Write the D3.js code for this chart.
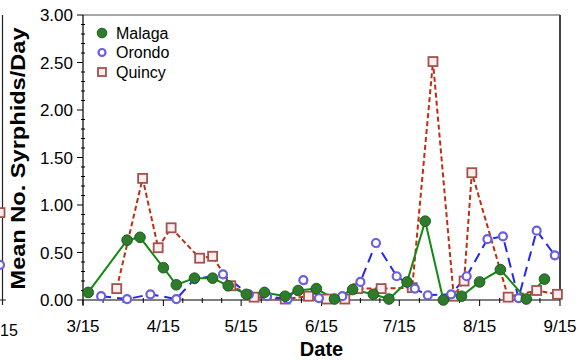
<!DOCTYPE html>
<html>
<head>
  <meta charset="utf-8">
  <script src="https://cdn.jsdelivr.net/npm/d3@7/dist/d3.min.js"></script>
  <style>
    body { margin: 0; background: #fff; }
    svg { display: block; font-family: "Liberation Sans", Arial, sans-serif; }
  </style>
</head>
<body>
  <svg width="580" height="360"></svg>
  <script>
    // chart data
    const malagaDates = ['3/17', '4/1', '4/6', '4/15', '4/20', '4/27', '5/4', '5/10', '5/17', '5/24', '6/1', '6/6', '6/13', '6/20', '6/27', '7/5', '7/11', '7/18', '7/25', '8/1', '8/8', '8/15', '8/23', '9/2', '9/9'];
    const malagaValues = [0.08, 0.63, 0.66, 0.34, 0.16, 0.23, 0.23, 0.15, 0.06, 0.08, 0.04, 0.10, 0.12, 0.01, 0.11, 0.06, 0.01, 0.19, 0.83, 0.00, 0.04, 0.19, 0.32, 0.01, 0.22];

    const orondoDates = ['3/22', '4/1', '4/10', '4/20', '4/27', '5/8', '5/18', '5/25', '6/2', '6/8', '6/14', '6/23', '6/30', '7/6', '7/14', '7/21', '7/26', '8/4', '8/10', '8/18', '8/24', '8/30', '9/6', '9/13'];
    const orondoValues = [0.04, 0.01, 0.06, 0.01, 0.22, 0.27, 0.06, 0.04, 0.01, 0.21, 0.02, 0.04, 0.19, 0.60, 0.25, 0.12, 0.05, 0.06, 0.25, 0.64, 0.67, 0.02, 0.73, 0.47];

    const quincyDates = ['3/28', '4/7', '4/13', '4/18', '4/29', '5/4', '5/11', '5/20', '6/1', '6/10', '6/17', '6/24', '6/29', '7/8', '7/20', '7/28', '8/5', '8/9', '8/12', '8/26', '9/6', '9/14'];
    const quincyValues = [0.12, 1.28, 0.55, 0.76, 0.44, 0.46, 0.15, 0.03, 0.01, 0.04, 0.01, 0.01, 0.12, 0.12, 0.13, 2.51, 0.04, 0.20, 1.34, 0.03, 0.10, 0.06];

    const seriesNames = ['Malaga', 'Orondo', 'Quincy'];
    const xTickLabels = ['3/15', '4/15', '5/15', '6/15', '7/15', '8/15', '9/15'];
    const yTickValues = [0, 0.5, 1, 1.5, 2, 2.5, 3];

    // edge of the neighbouring panel that shows at the left of the picture
    const neighbourValues = { Quincy: 0.92, Orondo: 0.37 };

    const svg = d3.select('svg');
    const margin = { top: 15, right: 20, bottom: 60, left: 83 };
    const width = +svg.attr('width');
    const height = +svg.attr('height');
    const x0 = margin.left, x1 = width - margin.right;
    const y0 = height - margin.bottom, y1 = margin.top;

    const parseDate = s => d3.utcParse('%m/%d/%Y')(s + '/2000');

    const x = d3.scaleUtc()
      .domain([parseDate('3/15'), parseDate('9/15')])
      .range([x0, x1]);
    const y = d3.scaleLinear().domain([0, 3]).range([y0, y1]);

    const styles = {
      Malaga: { line: '#128a12', dash: null, shape: 'dot', stroke: '#1d5e1d', fill: '#2e7b2e' },
      Orondo: { line: '#2626f0', dash: '10,6', shape: 'ring', stroke: '#6a5fe0', fill: '#ffffff' },
      Quincy: { line: '#c02c12', dash: '5,3', shape: 'square', stroke: '#a4504e', fill: '#fbeeee' }
    };

    const series = [
      { name: 'Malaga', dates: malagaDates, values: malagaValues },
      { name: 'Orondo', dates: orondoDates, values: orondoValues },
      { name: 'Quincy', dates: quincyDates, values: quincyValues }
    ].map(s => ({
      name: s.name,
      points: s.dates.map((d, i) => ({ date: parseDate(d), value: s.values[i] }))
    }));

    // neighbour panel fragment
    const nb = svg.append('g');
    nb.append('line')
      .attr('x1', 2.5).attr('x2', 2.5)
      .attr('y1', y1).attr('y2', y0 + 5)
      .attr('stroke', '#222').attr('stroke-width', 1.2);
    nb.append('line')
      .attr('x1', 0).attr('x2', 6)
      .attr('y1', y0).attr('y2', y0)
      .attr('stroke', '#222');
    nb.append('text')
      .attr('x', 0).attr('y', 336)
      .attr('text-anchor', 'start')
      .attr('font-size', 16)
      .text('15');

    function drawMarker(g, name, cx, cy, size) {
      const st = styles[name];
      if (st.shape === 'square') {
        g.append('rect')
          .attr('x', cx - size).attr('y', cy - size)
          .attr('width', size * 2).attr('height', size * 2)
          .attr('fill', st.fill).attr('stroke', st.stroke).attr('stroke-width', 1.8);
      } else if (st.shape === 'ring') {
        g.append('circle')
          .attr('cx', cx).attr('cy', cy).attr('r', size - 0.5)
          .attr('fill', st.fill).attr('stroke', st.stroke).attr('stroke-width', 2.2);
      } else {
        g.append('circle')
          .attr('cx', cx).attr('cy', cy).attr('r', size + 0.8)
          .attr('fill', st.fill).attr('stroke', st.stroke).attr('stroke-width', 1);
      }
    }

    drawMarker(nb, 'Quincy', 0, y(neighbourValues.Quincy), 4.5);
    drawMarker(nb, 'Orondo', 0, y(neighbourValues.Orondo), 4.5);

    // frame
    svg.append('line')
      .attr('x1', x0).attr('x2', x1).attr('y1', y1).attr('y2', y1)
      .attr('stroke', '#8a8a8a').attr('stroke-width', 1.5);
    svg.append('line')
      .attr('x1', x1).attr('x2', x1).attr('y1', y1).attr('y2', y0)
      .attr('stroke', '#444').attr('stroke-width', 2);

    // y axis
    const yAxis = svg.append('g').attr('stroke', '#000');
    yAxis.append('line')
      .attr('x1', x0).attr('x2', x0).attr('y1', y1).attr('y2', y0 + 5)
      .attr('stroke-width', 1.2);
    d3.range(0, 31).forEach(i => {
      const v = i / 10;
      const major = i % 5 === 0;
      yAxis.append('line')
        .attr('x1', major ? x0 - 6 : x0 - 2)
        .attr('x2', major ? x0 : x0 + 2)
        .attr('y1', y(v)).attr('y2', y(v));
    });
    svg.append('g')
      .selectAll('text')
      .data(yTickValues)
      .join('text')
      .attr('x', x0 - 10)
      .attr('y', d => y(d))
      .attr('dy', '0.36em')
      .attr('text-anchor', 'end')
      .attr('font-size', 17)
      .text(d => d3.format('.2f')(d));

    // x axis
    const xAxis = svg.append('g').attr('stroke', '#000');
    xAxis.append('line')
      .attr('x1', x0).attr('x2', x1).attr('y1', y0).attr('y2', y0)
      .attr('stroke-width', 1.2);
    const majorDates = xTickLabels.map(parseDate);
    majorDates.forEach((d, i) => {
      xAxis.append('line')
        .attr('x1', x(d)).attr('x2', x(d))
        .attr('y1', y0).attr('y2', y0 + 6);
      if (i < majorDates.length - 1) {
        const next = majorDates[i + 1];
        [0.25, 0.5, 0.75].forEach(f => {
          const px = x(d) + (x(next) - x(d)) * f;
          xAxis.append('line')
            .attr('x1', px).attr('x2', px)
            .attr('y1', y0 - 2).attr('y2', y0 + 3);
        });
      }
    });
    svg.append('g')
      .selectAll('text')
      .data(xTickLabels)
      .join('text')
      .attr('x', d => x(parseDate(d)))
      .attr('y', 332)
      .attr('text-anchor', 'middle')
      .attr('font-size', 17)
      .text(d => d);

    // axis titles
    svg.append('text')
      .attr('x', (x0 + x1) / 2)
      .attr('y', 356)
      .attr('text-anchor', 'middle')
      .attr('font-size', 20)
      .attr('font-weight', 'bold')
      .text('Date');
    svg.append('text')
      .attr('transform', `translate(25,${(y0 + y1) / 2 + 1}) rotate(-90)`)
      .attr('text-anchor', 'middle')
      .attr('font-size', 20)
      .attr('font-weight', 'bold')
      .attr('textLength', 262)
      .attr('lengthAdjust', 'spacingAndGlyphs')
      .text('Mean No. Syrphids/Day');

    // lines
    const line = d3.line().x(d => x(d.date)).y(d => y(d.value));
    const drawOrder = ['Quincy', 'Orondo', 'Malaga'];
    drawOrder.forEach(name => {
      const s = series.find(t => t.name === name);
      svg.append('path')
        .datum(s.points)
        .attr('d', line)
        .attr('fill', 'none')
        .attr('stroke', styles[name].line)
        .attr('stroke-width', 2)
        .attr('stroke-dasharray', styles[name].dash);
    });

    // markers
    drawOrder.forEach(name => {
      const s = series.find(t => t.name === name);
      const g = svg.append('g');
      s.points.forEach(p => drawMarker(g, name, x(p.date), y(p.value), 4.5));
    });

    // legend
    const legend = svg.append('g');
    seriesNames.forEach((name, i) => {
      const ly = 33 + i * 19.5;
      drawMarker(legend, name, 102, ly, 4);
      legend.append('text')
        .attr('x', 116)
        .attr('y', ly)
        .attr('dy', '0.36em')
        .attr('font-size', 16)
        .text(name);
    });
  </script>
</body>
</html>
